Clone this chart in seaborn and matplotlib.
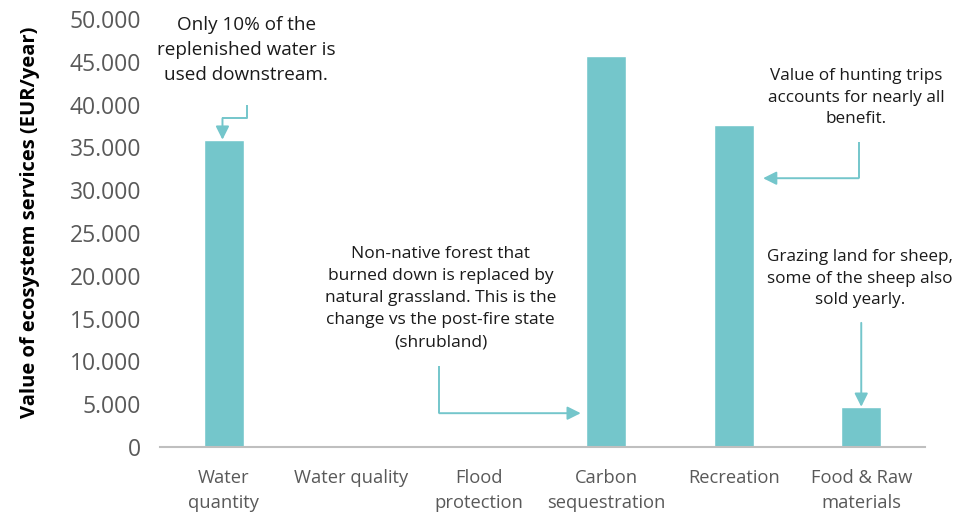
import matplotlib
matplotlib.use("Agg")
import matplotlib.pyplot as plt
import seaborn as sns
import pandas as pd

# Ecosystem service values (EUR/year)
categories = ["Water\nquantity", "Water quality", "Flood\nprotection",
              "Carbon\nsequestration", "Recreation", "Food & Raw\nmaterials"]
values = [35900, 0, 0, 45700, 37600, 4700]
y_ticks = [0, 5000, 10000, 15000, 20000, 25000, 30000, 35000, 40000, 45000, 50000]

note_water = "Only 10% of the\nreplenished water is\nused downstream."
note_carbon = ("Non-native forest that\nburned down is replaced by\nnatural grassland. This is the\n"
               "change vs the post-fire state\n(shrubland)")
note_recreation = "Value of hunting trips\naccounts for nearly all\nbenefit."
note_food = "Grazing land for sheep,\nsome of the sheep also\nsold yearly."

TEAL = "#74C6CB"
GREY = "#595959"

sns.set_theme(style="white")
plt.rcParams["font.family"] = ["Open Sans", "DejaVu Sans"]

fig = plt.figure(figsize=(9.72, 5.12), dpi=100)
ax = fig.add_axes([160 / 972, 65 / 512, 765 / 972, 428 / 512])

df = pd.DataFrame({"service": categories, "value": values})
sns.barplot(data=df, x="service", y="value", color=TEAL, saturation=1,
            width=0.31, ax=ax)

ax.set_ylim(0, 50000)
ax.set_xlim(-0.5, len(categories) - 0.5)
ax.set_yticks(y_ticks)
ax.set_yticklabels([f"{v:,}".replace(",", ".") for v in y_ticks])
ax.tick_params(axis="y", labelsize=16.5, labelcolor=GREY, length=0, pad=13.5)
ax.tick_params(axis="x", labelsize=13.2, labelcolor=GREY, length=0, pad=16)
for lab in ax.get_xticklabels():
    lab.set_linespacing(1.5)
    lab.set_verticalalignment("top")

ax.set_xlabel("")
ax.set_ylabel("Value of ecosystem services (EUR/year)", fontsize=14.5,
              fontweight="bold", color="black")
ax.yaxis.set_label_coords(-0.157, 0.525)

for side in ["left", "right", "top"]:
    ax.spines[side].set_visible(False)
ax.spines["bottom"].set_color("#BFBFBF")
ax.spines["bottom"].set_linewidth(1.5)

arrow_kw = dict(arrowstyle="-|>", color=TEAL, lw=1.4, shrinkA=0, shrinkB=0,
                mutation_scale=20)
line_kw = dict(color=TEAL, lw=1.4, solid_capstyle="butt")
text_kw = dict(ha="center", va="center", color="#1a1a1a")

# Water quantity note
ax.text(0.175, 46400, note_water, fontsize=13.6, linespacing=1.5, **text_kw)
ax.plot([0.18, 0.18, -0.01], [40000, 38400, 38400], **line_kw)
ax.annotate("", xy=(-0.01, values[0]), xytext=(-0.01, 38400), arrowprops=arrow_kw)

# Carbon sequestration note
ax.text(1.70, 17350, note_carbon, fontsize=12.5, linespacing=1.5, **text_kw)
ax.plot([1.69, 1.69], [9500, 3950], **line_kw)
ax.annotate("", xy=(2.80, 3950), xytext=(1.69, 3950), arrowprops=arrow_kw)

# Recreation note
ax.text(4.96, 40800, note_recreation, fontsize=12.3, linespacing=1.45, **text_kw)
ax.plot([4.98, 4.98], [35600, 31400], **line_kw)
ax.annotate("", xy=(4.23, 31400), xytext=(4.98, 31400), arrowprops=arrow_kw)

# Food & raw materials note
ax.text(4.99, 19650, note_food, fontsize=12.3, linespacing=1.45, **text_kw)
ax.annotate("", xy=(5.0, values[5]), xytext=(5.0, 14500), arrowprops=arrow_kw)

fig.savefig("out.png", dpi=100)
